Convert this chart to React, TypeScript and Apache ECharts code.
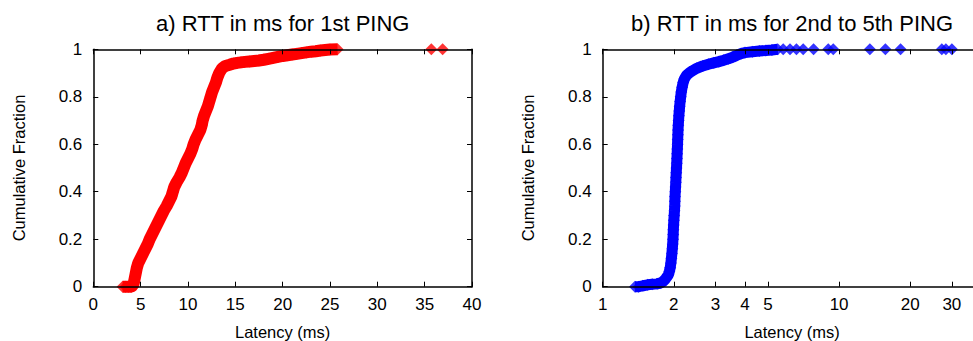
import React, { useEffect, useRef } from "react";
import * as echarts from "echarts";

// ---- Data ----
// a) first PING: latency (ms) and cumulative fraction
const LAT_A = [3.1, 3.4, 3.7, 4.0, 4.2, 4.3, 4.4, 4.5, 4.6, 4.75, 5.0, 5.25, 5.5, 5.75, 5.95, 6.2, 6.45, 6.7, 6.95, 7.2, 7.45, 7.75, 8.0, 8.25, 8.4, 8.55, 8.8, 9.1, 9.35, 9.55, 9.75, 10.0, 10.25, 10.45, 10.6, 10.8, 11.05, 11.3, 11.45, 11.55, 11.7, 11.9, 12.1, 12.25, 12.4, 12.55, 12.75, 12.95, 13.1, 13.3, 13.6, 13.95, 14.4, 14.8, 15.2, 15.6, 16.0, 16.5, 17.0, 17.5, 18.0, 18.5, 19.0, 19.5, 20.0, 20.5, 21.0, 21.5, 22.0, 22.5, 23.0, 23.5, 24.0, 24.5, 25.0, 25.8];
const CDF_A = [0, 0, 0, 0, 0.005, 0.02, 0.04, 0.06, 0.08, 0.1, 0.12, 0.14, 0.16, 0.18, 0.2, 0.22, 0.24, 0.26, 0.28, 0.3, 0.32, 0.34, 0.36, 0.38, 0.4, 0.42, 0.44, 0.46, 0.48, 0.5, 0.52, 0.54, 0.56, 0.58, 0.6, 0.62, 0.64, 0.66, 0.68, 0.7, 0.72, 0.74, 0.76, 0.78, 0.8, 0.82, 0.84, 0.86, 0.88, 0.9, 0.92, 0.93, 0.935, 0.94, 0.943, 0.945, 0.947, 0.949, 0.951, 0.953, 0.956, 0.96, 0.964, 0.968, 0.972, 0.975, 0.978, 0.981, 0.984, 0.987, 0.99, 0.992, 0.995, 0.997, 0.999, 1];
const TAIL_A = [35.7, 36.9];

// b) 2nd to 5th PING
const LAT_B = [1.37, 1.42, 1.48, 1.55, 1.62, 1.7, 1.76, 1.8, 1.835, 1.865, 1.896, 1.915, 1.93, 1.943, 1.953, 1.962, 1.97, 1.977, 1.983, 1.987, 1.99, 1.995, 2.0, 2.006, 2.012, 2.017, 2.02, 2.023, 2.028, 2.033, 2.038, 2.042, 2.047, 2.052, 2.057, 2.061, 2.065, 2.069, 2.073, 2.076, 2.08, 2.083, 2.088, 2.094, 2.1, 2.108, 2.116, 2.126, 2.138, 2.15, 2.168, 2.19, 2.215, 2.26, 2.32, 2.4, 2.5, 2.65, 2.8, 2.95, 3.1, 3.25, 3.4, 3.55, 3.7, 3.85, 4.0, 4.3, 4.6, 4.9, 5.2, 5.5];
const CDF_B = [0, 0, 0.004, 0.008, 0.01, 0.012, 0.016, 0.022, 0.03, 0.04, 0.05, 0.065, 0.08, 0.1, 0.12, 0.14, 0.16, 0.18, 0.2, 0.22, 0.24, 0.26, 0.28, 0.3, 0.32, 0.34, 0.36, 0.38, 0.4, 0.42, 0.44, 0.46, 0.48, 0.5, 0.52, 0.54, 0.56, 0.58, 0.6, 0.62, 0.64, 0.66, 0.68, 0.7, 0.72, 0.74, 0.76, 0.78, 0.8, 0.82, 0.84, 0.86, 0.875, 0.89, 0.9, 0.91, 0.92, 0.93, 0.937, 0.943, 0.948, 0.954, 0.96, 0.967, 0.975, 0.982, 0.986, 0.99, 0.993, 0.995, 0.997, 1];
const TAIL_B = [5.8, 6.2, 6.6, 7.05, 7.8, 9.0, 9.45, 13.5, 15.7, 18.2, 27.2, 28.3, 30.0];

const TICKS_A = [0, 5, 10, 15, 20, 25, 30, 35, 40];
const TICKS_B = [1, 2, 3, 4, 5, 10, 20, 30];
const X_MAX_B = 40;

const TITLE_A = "a) RTT in ms for 1st PING";
const TITLE_B = "b) RTT in ms for 2nd to 5th PING";
const X_NAME = "Latency (ms)";
const Y_NAME = "Cumulative Fraction";

const FONT = '"Liberation Sans", Arial, Helvetica, sans-serif';
const RED = "#ff0000";
const BLUE = "#0000ff";

export default function App() {
  const ref = useRef<HTMLDivElement>(null);

  useEffect(() => {
    if (!ref.current) return;
    const chart = echarts.init(ref.current, undefined, { renderer: "svg" });

    const lg = (v: number) => Math.log10(v);
    const bodyA = LAT_A.map((x, i) => [x, CDF_A[i]]);
    const tailA = TAIL_A.map((x) => [x, 1]);
    const bodyB = LAT_B.map((x, i) => [lg(x), CDF_B[i]]);
    const tailB = TAIL_B.map((x) => [lg(x), 1]);
    const logTicks = TICKS_B.map(lg);

    const axisLine = { onZero: false, lineStyle: { color: "#000", width: 1.5 } };
    const tick = { inside: true, length: 5, lineStyle: { color: "#000", width: 1 } };
    const label = { color: "#000", fontSize: 17, fontFamily: FONT };
    const nameStyle = { color: "#000", fontSize: 16.5, fontFamily: FONT };

    const gridCommon = {
      top: 49.3,
      height: 237.4,
      width: 378.7,
      containLabel: false,
      outerBoundsMode: "none",
    };

    const yBase = (gridIndex: number, pos: "left" | "right", main: boolean) => ({
      gridIndex,
      type: "value",
      position: pos,
      min: 0,
      max: 1,
      interval: 0.2,
      z: 10,
      axisLine,
      axisTick: tick,
      splitLine: { show: false },
      axisLabel: main ? { ...label, margin: 11 } : { show: false },
      name: main ? Y_NAME : "",
      nameLocation: "middle",
      nameGap: 66,
      nameTextStyle: nameStyle,
    });

    const option: any = {
      animation: false,
      grid: [
        { ...gridCommon, left: 93.3 },
        { ...gridCommon, left: 602.7 },
      ],
      xAxis: [
        {
          gridIndex: 0,
          type: "value",
          position: "bottom",
          min: TICKS_A[0],
          max: TICKS_A[TICKS_A.length - 1],
          interval: 5,
          z: 10,
          axisLine,
          axisTick: tick,
          splitLine: { show: false },
          axisLabel: { ...label, margin: 9 },
          name: X_NAME,
          nameLocation: "middle",
          nameGap: 37,
          nameTextStyle: nameStyle,
        },
        {
          gridIndex: 0,
          type: "value",
          position: "top",
          min: TICKS_A[0],
          max: TICKS_A[TICKS_A.length - 1],
          interval: 5,
          z: 10,
          axisLine,
          axisTick: tick,
          splitLine: { show: false },
          axisLabel: { show: false },
        },
        {
          gridIndex: 1,
          type: "value",
          position: "bottom",
          min: 0,
          max: lg(X_MAX_B),
          z: 10,
          axisLine,
          axisTick: { ...tick, customValues: logTicks },
          splitLine: { show: false },
          axisLabel: {
            ...label,
            margin: 9,
            customValues: logTicks,
            formatter: (v: number) => {
              const t = TICKS_B.find((k) => Math.abs(lg(k) - v) < 1e-6);
              return t === undefined ? "" : String(t);
            },
          },
          name: X_NAME,
          nameLocation: "middle",
          nameGap: 37,
          nameTextStyle: nameStyle,
        },
        {
          gridIndex: 1,
          type: "value",
          position: "top",
          min: 0,
          max: lg(X_MAX_B),
          z: 10,
          axisLine,
          axisTick: { ...tick, customValues: logTicks },
          splitLine: { show: false },
          axisLabel: { show: false, customValues: logTicks },
        },
      ],
      yAxis: [yBase(0, "left", true), yBase(0, "right", false), yBase(1, "left", true), yBase(1, "right", false)],
      graphic: [
        {
          type: "text",
          x: 282.7,
          y: 23,
          style: { text: TITLE_A, font: `22px ${FONT}`, fill: "#000", textAlign: "center", textVerticalAlign: "middle" },
        },
        {
          type: "text",
          x: 792,
          y: 23,
          style: { text: TITLE_B, font: `22px ${FONT}`, fill: "#000", textAlign: "center", textVerticalAlign: "middle" },
        },
      ],
      series: [
        {
          type: "line",
          xAxisIndex: 0,
          yAxisIndex: 0,
          data: bodyA,
          symbol: "none",
          clip: false,
          lineStyle: { color: RED, width: 12 },
          z: 2,
        },
        {
          type: "scatter",
          xAxisIndex: 0,
          yAxisIndex: 0,
          data: bodyA.concat(tailA),
          symbol: "diamond",
          symbolSize: 12,
          clip: false,
          itemStyle: { color: RED },
          z: 3,
        },
        {
          type: "line",
          xAxisIndex: 2,
          yAxisIndex: 2,
          data: bodyB,
          symbol: "none",
          clip: false,
          lineStyle: { color: BLUE, width: 11 },
          z: 2,
        },
        {
          type: "scatter",
          xAxisIndex: 2,
          yAxisIndex: 2,
          data: bodyB.concat(tailB),
          symbol: "diamond",
          symbolSize: 12,
          clip: false,
          itemStyle: { color: BLUE },
          z: 3,
        },
      ],
    };

    chart.setOption(option);
    return () => chart.dispose();
  }, []);

  return (
    <div
      ref={ref}
      style={{ position: "absolute", left: 0, top: 0, width: 973, height: 341, background: "#fff" }}
    />
  );
}
